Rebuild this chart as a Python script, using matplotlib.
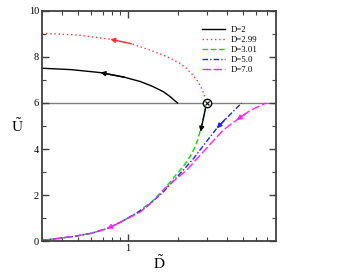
import matplotlib
matplotlib.use("Agg")
import matplotlib.pyplot as plt
import numpy as np
from matplotlib.ticker import LogLocator, NullFormatter, FixedLocator, FixedFormatter, MultipleLocator

plt.rcParams['font.family'] = ['Liberation Serif', 'DejaVu Serif']
plt.rcParams['mathtext.fontset'] = 'stix'

# Data
d2_D = [0.30, 0.45, 0.68, 0.95, 1.19, 1.40, 1.64, 1.80, 1.92, 2.0]
d2_U = [7.51, 7.45, 7.32, 7.12, 6.93, 6.73, 6.49, 6.28, 6.10, 6.0]

d299_D = [0.30, 0.50, 0.78, 1.05, 1.36, 1.70, 2.07, 2.25, 2.45, 2.62, 2.75, 2.85, 2.93, 2.97, 2.99]
d299_U = [9.03, 8.95, 8.77, 8.57, 8.30, 8.03, 7.72, 7.52, 7.25, 7.00, 6.75, 6.50, 6.25, 6.10, 6.0]

d301_D = [0.30, 0.468, 0.60, 0.746, 0.90, 1.13, 1.43, 1.70, 1.89, 2.17, 2.38, 2.56, 2.68, 2.87, 3.0]
d301_U = [0.03, 0.20, 0.34, 0.54, 0.82, 1.22, 1.78, 2.35, 2.75, 3.25, 3.67, 4.10, 4.50, 5.35, 6.0]

d5_D = [0.30, 0.468, 0.60, 0.746, 0.90, 1.13, 1.30, 1.64, 2.17, 2.51, 2.94, 3.46, 4.17, 4.9]
d5_U = [0.03, 0.20, 0.34, 0.54, 0.82, 1.22, 1.49, 2.14, 3.09, 3.60, 4.25, 4.90, 5.50, 6.0]

d7_D = [0.30, 0.468, 0.60, 0.746, 0.90, 1.19, 1.45, 1.72, 2.28, 2.60, 3.15, 3.79, 4.58, 5.5, 6.9]
d7_U = [0.03, 0.20, 0.34, 0.54, 0.82, 1.27, 1.80, 2.36, 3.09, 3.55, 4.20, 4.83, 5.26, 5.67, 6.0]

labels = ["D=2", "D=2.99", "D=3.01", "D=5.0", "D=7.0"]
fixed_D, fixed_U = 3.0, 6.0

fig = plt.figure(figsize=(3.38, 2.73), dpi=100)
ax = fig.add_axes([0.124, 0.117, 0.692, 0.843])

ax.axhline(6, color='#808080', lw=1.0, zorder=1)

ax.plot(d2_D, d2_U, color='black', lw=1.0, ls='-', label=labels[0])
ax.plot(d299_D, d299_U, color='#ff3030', lw=1.0, ls=(0, (1, 2)), label=labels[1])
ax.plot(d301_D, d301_U, color='#00e000', lw=1.0, ls=(0, (4, 2)), label=labels[2])
ax.plot(d5_D, d5_U, color='#2020ff', lw=1.0, ls=(0, (4, 1.5, 1, 1.5)), label=labels[3])
ax.plot(d7_D, d7_U, color='#ff20ff', lw=1.0, ls=(0, (6, 2)), label=labels[4])

ax.plot([fixed_D], [fixed_U], marker='o', ms=6, mfc='white', mec='black', mew=1.0, zorder=5)
ax.plot([fixed_D], [fixed_U], marker='x', ms=3.5, color='black', mew=0.8, zorder=6)

def arrow(x0, y0, x1, y1, c):
    ax.annotate('', xy=(x1, y1), xytext=(x0, y0),
                arrowprops=dict(arrowstyle='-|>', color=c, lw=1.0,
                                mutation_scale=7, shrinkA=0, shrinkB=0), zorder=7)

arrow(0.95, 7.12, 0.68, 7.32, 'black')
arrow(1.05, 8.57, 0.78, 8.77, '#ff3030')
arrow(2.95, 5.75, 2.76, 4.75, 'black')
arrow(3.9, 5.3, 3.46, 4.90, '#2020ff')
arrow(5.2, 5.55, 4.58, 5.26, '#ff20ff')
arrow(0.85, 0.73, 0.746, 0.54, '#ff20ff')

ax.set_xscale('log')
ax.set_xlim(0.3, 7.9)
ax.set_ylim(0, 10)
ax.xaxis.set_major_locator(FixedLocator([1]))
ax.xaxis.set_major_formatter(FixedFormatter(['1']))
ax.xaxis.set_minor_locator(LogLocator(base=10, subs=np.arange(2, 10)))
ax.xaxis.set_minor_formatter(NullFormatter())
ax.yaxis.set_major_locator(MultipleLocator(2))
ax.yaxis.set_minor_locator(MultipleLocator(1))

ax.tick_params(which='both', direction='in', top=True, right=True, labelsize=7.5,
               color='#404040', pad=2)
ax.tick_params(which='major', length=5, width=1.0)
ax.tick_params(which='minor', length=3, width=0.8)
for s in ax.spines.values():
    s.set_color('#404040')
    s.set_linewidth(1.3)

ax.set_ylabel(r'$\tilde{\mathrm{U}}$', fontsize=11, rotation=0, labelpad=8, va='center')
ax.set_xlabel(r'$\tilde{\mathrm{D}}$', fontsize=11, labelpad=1)

leg = ax.legend(loc='upper left', bbox_to_anchor=(0.685, 0.935), fontsize=6.3, frameon=False,
                handlelength=2.6, labelspacing=0.22, handletextpad=0.7, borderpad=0,
                borderaxespad=0)

fig.savefig('out.png', dpi=100)
